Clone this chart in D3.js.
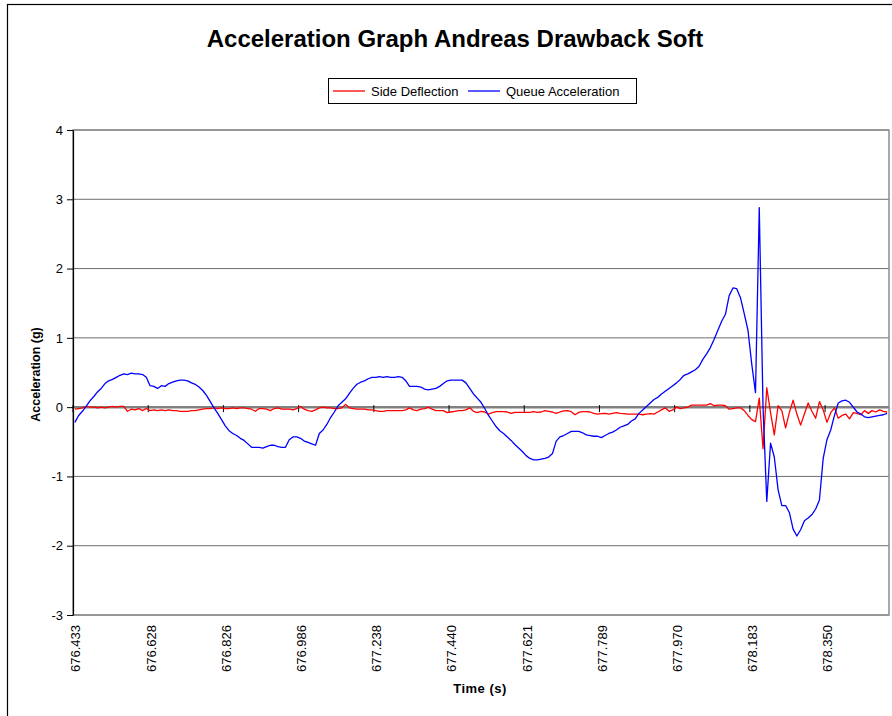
<!DOCTYPE html>
<meta charset="utf-8">
<style>
  body { margin: 0; background: #fff; }
  svg text { font-family: Arial, "Liberation Sans", sans-serif; }
</style>

<!-- Load d3.js -->
<script src="https://d3js.org/d3.v7.min.js"></script>

<div id="chart"></div>

<script>

// tick labels of the time axis, one every 20 samples
var timeLabels = ["676.433", "676.628", "676.826", "676.986", "677.238", "677.440",
                  "677.621", "677.789", "677.970", "678.183", "678.350"];
var labelStep = 20;

var yTicks = [-3, -2, -1, 0, 1, 2, 3, 4];

// Side Deflection (g), one value per sample
var sideDeflection = [
  -0.03, -0.02, -0.01, 0.01, 0.00, 0.00, -0.01, 0.00, -0.01, 0.00,
  0.01, 0.00, 0.01, 0.01, -0.06, -0.03, -0.04, -0.02, -0.05, -0.02,
  -0.05, -0.04, -0.05, -0.04, -0.05, -0.04, -0.05, -0.05, -0.06, -0.06,
  -0.06, -0.05, -0.05, -0.04, -0.03, -0.02, -0.02, -0.01, -0.02, -0.01,
  -0.02, -0.02, -0.01, -0.02, -0.01, -0.01, -0.02, -0.03, -0.06, -0.02,
  -0.02, -0.03, -0.05, -0.02, -0.01, -0.03, -0.03, -0.03, -0.04, -0.02,
  0.01, -0.03, -0.05, -0.06, -0.04, -0.01, 0.00, -0.01, -0.01, -0.02,
  -0.02, -0.01, 0.04, -0.01, -0.02, -0.03, -0.03, -0.03, -0.04, -0.04,
  -0.05, -0.06, -0.06, -0.05, -0.05, -0.05, -0.05, -0.05, -0.04, -0.01,
  -0.04, -0.05, -0.03, -0.02, 0.00, -0.03, -0.05, -0.05, -0.05, -0.08,
  -0.07, -0.06, -0.05, -0.05, -0.04, -0.01, -0.06, -0.08, -0.06, -0.07,
  -0.10, -0.08, -0.065, -0.065, -0.065, -0.07, -0.09, -0.075, -0.075, -0.075,
  -0.075, -0.075, -0.065, -0.075, -0.07, -0.05, -0.06, -0.07, -0.09, -0.07,
  -0.055, -0.05, -0.065, -0.11, -0.075, -0.065, -0.065, -0.07, -0.09, -0.10,
  -0.095, -0.09, -0.10, -0.09, -0.08, -0.09, -0.095, -0.10, -0.10, -0.10,
  -0.10, -0.11, -0.10, -0.095, -0.10, -0.07, -0.04, -0.01, -0.06, -0.04,
  0.00, -0.02, -0.01, 0.00, 0.03, 0.03, 0.03, 0.03, 0.03, 0.05,
  0.02, 0.03, 0.03, 0.02, -0.03, -0.02, -0.01, -0.01, -0.05, -0.12,
  -0.18, -0.21, 0.13, -0.60, 0.28, -0.08, -0.40, 0.02, -0.05, -0.30,
  -0.08, 0.10, -0.10, -0.26, -0.10, 0.06, -0.06, -0.16, 0.08, -0.04,
  -0.22, -0.08, -0.01, -0.16, -0.12, -0.10, -0.17, -0.08, -0.09, -0.11,
  -0.05, -0.09, -0.05, -0.07, -0.04, -0.06, -0.07
];

// Queue Acceleration (g), one value per sample
var queueAcceleration = [
  -0.22, -0.12, -0.06, 0.01, 0.09, 0.15, 0.22, 0.27, 0.34, 0.38,
  0.40, 0.43, 0.46, 0.48, 0.47, 0.49, 0.48, 0.48, 0.47, 0.43,
  0.31, 0.30, 0.27, 0.31, 0.30, 0.34, 0.36, 0.38, 0.39, 0.39,
  0.38, 0.35, 0.33, 0.29, 0.24, 0.17, 0.08, -0.01, -0.09, -0.18,
  -0.27, -0.34, -0.38, -0.41, -0.45, -0.48, -0.53, -0.58, -0.58, -0.58,
  -0.59, -0.57, -0.55, -0.55, -0.57, -0.58, -0.58, -0.47, -0.43, -0.43,
  -0.45, -0.49, -0.51, -0.53, -0.55, -0.38, -0.33, -0.25, -0.15, -0.07,
  0.02, 0.07, 0.12, 0.20, 0.27, 0.33, 0.36, 0.38, 0.41, 0.43,
  0.43, 0.44, 0.43, 0.44, 0.43, 0.43, 0.44, 0.43, 0.38, 0.30,
  0.30, 0.30, 0.29, 0.26, 0.25, 0.26, 0.27, 0.30, 0.34, 0.38,
  0.39, 0.39, 0.39, 0.39, 0.35, 0.27, 0.19, 0.13, 0.07, -0.02,
  -0.12, -0.20, -0.28, -0.34, -0.38, -0.43, -0.48, -0.54, -0.59, -0.64,
  -0.70, -0.74, -0.76, -0.76, -0.75, -0.74, -0.72, -0.67, -0.49, -0.43,
  -0.41, -0.38, -0.35, -0.35, -0.35, -0.37, -0.40, -0.41, -0.42, -0.42,
  -0.44, -0.41, -0.38, -0.36, -0.33, -0.29, -0.27, -0.25, -0.20, -0.17,
  -0.09, -0.04, 0.01, 0.06, 0.11, 0.14, 0.19, 0.23, 0.27, 0.31,
  0.35, 0.40, 0.46, 0.48, 0.51, 0.54, 0.59, 0.69, 0.77, 0.86,
  0.98, 1.11, 1.24, 1.34, 1.61, 1.72, 1.71, 1.58, 1.35, 1.11,
  0.62, 0.21, 2.88, 0.00, -1.36, -0.52, -0.72, -1.19, -1.42, -1.42,
  -1.52, -1.76, -1.86, -1.77, -1.64, -1.60, -1.55, -1.47, -1.34, -0.74,
  -0.47, -0.33, -0.12, 0.06, 0.09, 0.10, 0.07, 0.00, -0.07, -0.10,
  -0.14, -0.15, -0.14, -0.13, -0.12, -0.11, -0.09
];

var series = [
  {name: "Side Deflection", values: sideDeflection, color: "#ff0000"},
  {name: "Queue Acceleration", values: queueAcceleration, color: "#0000ff"}
];

// set the dimensions and margins of the graph
var W = 892, H = 716;
var margin = {top: 130, right: 3, bottom: 101, left: 73},
    width = W - margin.left - margin.right,
    height = H - margin.top - margin.bottom;

var svg = d3.select("#chart")
  .append("svg")
    .attr("width", W)
    .attr("height", H);

// outer chart frame
svg.append("rect")
  .attr("x", 7.5).attr("y", 4.5)
  .attr("width", 920).attr("height", 740)
  .attr("fill", "#fff")
  .attr("stroke", "#000")
  .attr("stroke-width", 1.2);

// title
svg.append("text")
  .attr("x", 455).attr("y", 47)
  .attr("text-anchor", "middle")
  .style("font-size", "24px")
  .style("font-weight", "bold")
  .text("Acceleration Graph Andreas Drawback Soft");

// legend
var legend = svg.append("g");
legend.append("rect")
  .attr("x", 328.5).attr("y", 78.5)
  .attr("width", 308).attr("height", 25)
  .attr("fill", "#fff")
  .attr("stroke", "#000");
var legendX = [333, 468];
series.forEach(function(s, i) {
  legend.append("line")
    .attr("x1", legendX[i]).attr("x2", legendX[i] + 32)
    .attr("y1", 91).attr("y2", 91)
    .attr("stroke", s.color)
    .attr("stroke-width", 1.3);
  legend.append("text")
    .attr("x", legendX[i] + 38).attr("y", 95.5)
    .style("font-size", "13px")
    .text(s.name);
});

var g = svg.append("g")
  .attr("transform", "translate(" + margin.left + "," + margin.top + ")");

var n = queueAcceleration.length;

// x is a category axis: sample i sits in the middle of its slot
var x = d3.scaleLinear()
  .domain([0, n])
  .range([0, width]);

var y = d3.scaleLinear()
  .domain([-3, 4])
  .range([height, 0]);

// gridlines
g.selectAll(".grid")
  .data(yTicks.filter(function(d) { return d !== 0; }))
  .enter().append("line")
    .attr("x1", 0).attr("x2", width)
    .attr("y1", function(d) { return y(d); })
    .attr("y2", function(d) { return y(d); })
    .attr("stroke", "#6e6e6e")
    .attr("stroke-width", 1);

// plot area border
g.append("rect")
  .attr("x", 0).attr("y", 0)
  .attr("width", width).attr("height", height)
  .attr("fill", "none")
  .attr("stroke", "#8c8c8c")
  .attr("stroke-width", 1.5);

// category axis along y = 0
g.append("line")
  .attr("x1", 0).attr("x2", width)
  .attr("y1", y(0)).attr("y2", y(0))
  .attr("stroke", "#808080")
  .attr("stroke-width", 2.5);

g.selectAll(".xtick")
  .data(timeLabels)
  .enter().append("line")
    .attr("x1", function(d, i) { return x(i * labelStep); })
    .attr("x2", function(d, i) { return x(i * labelStep); })
    .attr("y1", y(0) - 2)
    .attr("y2", y(0) + 5)
    .attr("stroke", "#000");

// time labels at the bottom
g.selectAll(".xlabel")
  .data(timeLabels)
  .enter().append("text")
    .attr("transform", function(d, i) {
      return "translate(" + (x(i * labelStep + 0.5) + 1) + "," + (height + 10) + ") rotate(-90)";
    })
    .attr("text-anchor", "end")
    .attr("dominant-baseline", "central")
    .style("font-size", "13px")
    .text(function(d) { return d; });

// Y axis
var yAxis = g.append("g")
  .call(d3.axisLeft(y)
    .tickValues(yTicks)
    .tickSize(6)
    .tickSizeOuter(0)
    .tickPadding(4)
    .tickFormat(function(d) { return String(d); }));
yAxis.select(".domain").attr("stroke", "#000").attr("stroke-width", 1.2);
yAxis.selectAll("text")
  .style("font-size", "13px")
  .style("font-family", "Arial, 'Liberation Sans', sans-serif")
  .attr("fill", "#000");

// lines
var line = d3.line()
  .x(function(d, i) { return x(i + 0.5); })
  .y(function(d) { return y(d); });

g.selectAll(".series")
  .data(series)
  .enter().append("path")
    .attr("d", function(s) { return line(s.values); })
    .attr("fill", "none")
    .attr("stroke", function(s) { return s.color; })
    .attr("stroke-width", 1.3)
    .attr("stroke-linejoin", "round");

// axis titles
svg.append("text")
  .attr("transform", "translate(36," + (margin.top + height / 2 + 2) + ") rotate(-90)")
  .attr("text-anchor", "middle")
  .attr("dominant-baseline", "central")
  .style("font-size", "12.5px")
  .style("font-weight", "bold")
  .text("Acceleration (g)");

svg.append("text")
  .attr("x", 480).attr("y", 693)
  .attr("text-anchor", "middle")
  .style("font-size", "13px")
  .style("font-weight", "bold")
  .style("letter-spacing", "0.5px")
  .text("Time (s)");

</script>
